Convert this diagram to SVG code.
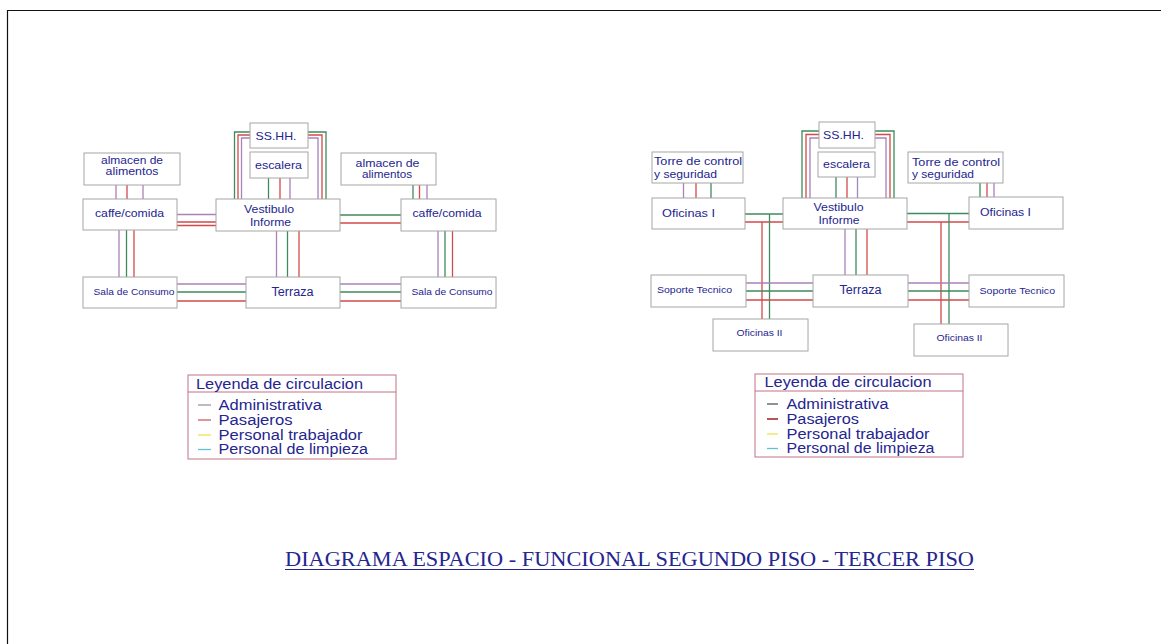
<svg xmlns="http://www.w3.org/2000/svg" width="1161" height="644" viewBox="0 0 1161 644">
  <style>
    .box { fill: #ffffff; stroke: #a6a6a6; stroke-width: 1; }
    .t { font-family: "Liberation Sans", Arial, sans-serif; font-size: 11px; fill: #25258f; }
    .t2 { font-size: 10px; }
    .ts { font-size: 9.5px; }
    .tl { font-size: 12px; }
    .c { text-anchor: middle; }
    .lg { font-family: "Liberation Sans", Arial, sans-serif; font-size: 14px; fill: #25258f; }
    .lgbox { fill: #ffffff; stroke: #c27284; stroke-width: 1; }
    .w path, .w line { fill: none; stroke-width: 1.3; }
    .m { stroke: #a982b8; }
    .r { stroke: #d24a4a; }
    .g { stroke: #3f8a5c; }
    .title { font-family: "Liberation Serif", "Times New Roman", serif; font-size: 20px; fill: #25258f; }
  </style>

  <rect width="1161" height="644" fill="#ffffff"/>
  <path d="M7.5,644 V10.5 H1161" fill="none" stroke="#111111" stroke-width="1.2"/>

  <!-- circulation lines, segundo piso -->
  <g id="connectors-segundo" class="w">
    <line class="m" x1="116" y1="185" x2="116" y2="199"/>
    <line class="r" x1="127" y1="185" x2="127" y2="199"/>
    <line class="m" x1="143" y1="185" x2="143" y2="199"/>

    <line class="m" x1="119" y1="230" x2="119" y2="277"/>
    <line class="g" x1="126.5" y1="230" x2="126.5" y2="277"/>
    <line class="r" x1="134" y1="230" x2="134" y2="277"/>

    <line class="m" x1="177" y1="214.5" x2="216" y2="214.5"/>
    <line class="r" x1="177" y1="222" x2="216" y2="222"/>
    <line class="r" x1="177" y1="225.5" x2="216" y2="225.5"/>

    <line class="g" x1="340" y1="215" x2="401" y2="215"/>
    <line class="r" x1="340" y1="223" x2="401" y2="223"/>

    <path class="g" d="M250,132 H234.5 V199"/>
    <path class="r" d="M250,135 H238 V199"/>
    <path class="m" d="M250,138 H241.5 V199"/>
    <path class="m" d="M308,138 H318 V199"/>
    <path class="r" d="M308,135 H322 V199"/>
    <path class="g" d="M308,132 H326 V199"/>

    <line class="g" x1="268.5" y1="178" x2="268.5" y2="199"/>
    <line class="r" x1="280" y1="178" x2="280" y2="199"/>
    <line class="m" x1="290" y1="178" x2="290" y2="199"/>

    <line class="m" x1="276.5" y1="231" x2="276.5" y2="277"/>
    <line class="g" x1="287.5" y1="231" x2="287.5" y2="277"/>
    <line class="r" x1="299" y1="231" x2="299" y2="277"/>

    <line class="g" x1="413" y1="185" x2="413" y2="199"/>
    <line class="r" x1="419.5" y1="185" x2="419.5" y2="199"/>
    <line class="m" x1="427" y1="185" x2="427" y2="199"/>

    <line class="m" x1="438" y1="231" x2="438" y2="277"/>
    <line class="g" x1="445" y1="231" x2="445" y2="277"/>
    <line class="r" x1="452.5" y1="231" x2="452.5" y2="277"/>

    <line class="m" x1="177" y1="284" x2="246" y2="284"/>
    <line class="g" x1="177" y1="292" x2="246" y2="292"/>
    <line class="r" x1="177" y1="301" x2="246" y2="301"/>

    <line class="m" x1="340" y1="284" x2="401" y2="284"/>
    <line class="g" x1="340" y1="292" x2="401" y2="292"/>
    <line class="r" x1="340" y1="301" x2="401" y2="301"/>
  </g>

  <!-- circulation lines, tercer piso -->
  <g id="connectors-tercer" class="w">
    <line class="m" x1="683.5" y1="183" x2="683.5" y2="198"/>
    <line class="r" x1="696" y1="183" x2="696" y2="198"/>
    <line class="g" x1="711" y1="183" x2="711" y2="198"/>

    <line class="g" x1="980" y1="183" x2="980" y2="197"/>
    <line class="r" x1="987" y1="183" x2="987" y2="197"/>
    <line class="m" x1="994" y1="183" x2="994" y2="197"/>

    <path class="g" d="M819,131 H802 V198"/>
    <path class="r" d="M819,134.5 H806 V198"/>
    <path class="m" d="M819,138 H810 V198"/>
    <path class="m" d="M875,138 H886 V198"/>
    <path class="r" d="M875,134.5 H890 V198"/>
    <path class="g" d="M875,131 H894 V198"/>

    <line class="g" x1="836" y1="177" x2="836" y2="198"/>
    <line class="r" x1="847" y1="177" x2="847" y2="198"/>
    <line class="m" x1="857.5" y1="177" x2="857.5" y2="198"/>

    <line class="m" x1="845" y1="229" x2="845" y2="275"/>
    <line class="g" x1="856" y1="229" x2="856" y2="275"/>
    <line class="r" x1="867" y1="229" x2="867" y2="275"/>

    <line class="g" x1="745" y1="214" x2="783" y2="214"/>
    <line class="r" x1="745" y1="222" x2="783" y2="222"/>
    <line class="g" x1="769.5" y1="214" x2="769.5" y2="319"/>
    <line class="r" x1="762" y1="222" x2="762" y2="319"/>

    <line class="g" x1="907" y1="213.5" x2="969" y2="213.5"/>
    <line class="r" x1="907" y1="222" x2="969" y2="222"/>
    <line class="r" x1="941" y1="222" x2="941" y2="324"/>
    <line class="g" x1="949" y1="213.5" x2="949" y2="324"/>

    <line class="m" x1="746" y1="283" x2="813" y2="283"/>
    <line class="g" x1="746" y1="291" x2="813" y2="291"/>
    <line class="r" x1="746" y1="300" x2="813" y2="300"/>

    <line class="m" x1="908" y1="283" x2="969" y2="283"/>
    <line class="g" x1="908" y1="291" x2="969" y2="291"/>
    <line class="r" x1="908" y1="300" x2="969" y2="300"/>
  </g>

  <!-- segundo piso nodes -->
  <g id="almacen-izq">
    <rect class="box" x="84" y="153" width="96" height="32"/>
    <text class="t t2 c" x="132" y="164" textLength="62" lengthAdjust="spacingAndGlyphs">almacen de</text>
    <text class="t t2 c" x="132" y="175" textLength="53" lengthAdjust="spacingAndGlyphs">alimentos</text>
  </g>
  <g id="caffe-izq">
    <rect class="box" x="83" y="199" width="94" height="31"/>
    <text class="t c" x="129.5" y="217" textLength="69" lengthAdjust="spacingAndGlyphs">caffe/comida</text>
  </g>
  <g id="sshh-2">
    <rect class="box" x="250" y="123" width="58" height="25"/>
    <text class="t c" x="276" y="140" textLength="41" lengthAdjust="spacingAndGlyphs">SS.HH.</text>
  </g>
  <g id="escalera-2">
    <rect class="box" x="250" y="152" width="58" height="26"/>
    <text class="t c" x="278.5" y="169" textLength="47" lengthAdjust="spacingAndGlyphs">escalera</text>
  </g>
  <g id="vestibulo-2">
    <rect class="box" x="216" y="199" width="124" height="32"/>
    <text class="t c" x="269" y="213" textLength="50" lengthAdjust="spacingAndGlyphs">Vestibulo</text>
    <text class="t c" x="270.5" y="225.5" textLength="41" lengthAdjust="spacingAndGlyphs">Informe</text>
  </g>
  <g id="almacen-der">
    <rect class="box" x="341" y="153" width="95" height="32"/>
    <text class="t t2 c" x="387.5" y="167" textLength="64" lengthAdjust="spacingAndGlyphs">almacen de</text>
    <text class="t t2 c" x="387" y="178" textLength="50" lengthAdjust="spacingAndGlyphs">alimentos</text>
  </g>
  <g id="caffe-der">
    <rect class="box" x="401" y="199" width="95" height="32"/>
    <text class="t c" x="447" y="217" textLength="69" lengthAdjust="spacingAndGlyphs">caffe/comida</text>
  </g>
  <g id="sala-izq">
    <rect class="box" x="83" y="277" width="94" height="31"/>
    <text class="t ts c" x="134" y="295" textLength="81" lengthAdjust="spacingAndGlyphs">Sala de Consumo</text>
  </g>
  <g id="terraza-2">
    <rect class="box" x="246" y="277" width="94" height="31"/>
    <text class="t tl c" x="292.5" y="295.5" textLength="42" lengthAdjust="spacingAndGlyphs">Terraza</text>
  </g>
  <g id="sala-der">
    <rect class="box" x="401" y="277" width="95" height="31"/>
    <text class="t ts c" x="452" y="295" textLength="81" lengthAdjust="spacingAndGlyphs">Sala de Consumo</text>
  </g>

  <!-- tercer piso nodes -->
  <g id="torre-izq">
    <rect class="box" x="652" y="152" width="91" height="31"/>
    <text class="t" x="654" y="165" textLength="88" lengthAdjust="spacingAndGlyphs">Torre de control</text>
    <text class="t" x="654" y="178" textLength="63" lengthAdjust="spacingAndGlyphs">y seguridad</text>
  </g>
  <g id="oficinas1-izq">
    <rect class="box" x="652" y="198" width="93" height="31"/>
    <text class="t" x="662" y="216.5" textLength="53" lengthAdjust="spacingAndGlyphs">Oficinas I</text>
  </g>
  <g id="sshh-3">
    <rect class="box" x="819" y="122" width="56" height="26"/>
    <text class="t c" x="843.5" y="138.5" textLength="41" lengthAdjust="spacingAndGlyphs">SS.HH.</text>
  </g>
  <g id="escalera-3">
    <rect class="box" x="818" y="152" width="57" height="25"/>
    <text class="t c" x="846.5" y="167.5" textLength="47" lengthAdjust="spacingAndGlyphs">escalera</text>
  </g>
  <g id="vestibulo-3">
    <rect class="box" x="783" y="198" width="124" height="31"/>
    <text class="t c" x="838.5" y="211" textLength="50" lengthAdjust="spacingAndGlyphs">Vestibulo</text>
    <text class="t c" x="839" y="223.5" textLength="41" lengthAdjust="spacingAndGlyphs">Informe</text>
  </g>
  <g id="torre-der">
    <rect class="box" x="908" y="152" width="95" height="31"/>
    <text class="t" x="912" y="165.5" textLength="88" lengthAdjust="spacingAndGlyphs">Torre de control</text>
    <text class="t" x="912" y="178" textLength="62" lengthAdjust="spacingAndGlyphs">y seguridad</text>
  </g>
  <g id="oficinas1-der">
    <rect class="box" x="969" y="197" width="94" height="32"/>
    <text class="t" x="980" y="216" textLength="51" lengthAdjust="spacingAndGlyphs">Oficinas I</text>
  </g>
  <g id="soporte-izq">
    <rect class="box" x="651" y="275" width="95" height="32"/>
    <text class="t ts" x="657" y="293" textLength="75" lengthAdjust="spacingAndGlyphs">Soporte Tecnico</text>
  </g>
  <g id="terraza-3">
    <rect class="box" x="813" y="275" width="95" height="32"/>
    <text class="t tl c" x="860.5" y="294" textLength="42" lengthAdjust="spacingAndGlyphs">Terraza</text>
  </g>
  <g id="soporte-der">
    <rect class="box" x="969" y="275" width="95" height="32"/>
    <text class="t ts" x="979.5" y="293.5" textLength="75.5" lengthAdjust="spacingAndGlyphs">Soporte Tecnico</text>
  </g>
  <g id="oficinas2-izq">
    <rect class="box" x="713" y="319" width="95" height="32"/>
    <text class="t ts c" x="759.5" y="336" textLength="46" lengthAdjust="spacingAndGlyphs">Oficinas II</text>
  </g>
  <g id="oficinas2-der">
    <rect class="box" x="914" y="324" width="94" height="32"/>
    <text class="t ts c" x="959.5" y="341" textLength="46" lengthAdjust="spacingAndGlyphs">Oficinas II</text>
  </g>

  <!-- legends -->
  <g id="leyenda-2">
    <rect class="lgbox" x="188" y="375" width="208" height="84"/>
    <line x1="188" y1="392" x2="396" y2="392" stroke="#c27284" stroke-width="1"/>
    <text class="lg" x="196" y="388.5" textLength="167" lengthAdjust="spacingAndGlyphs">Leyenda de circulacion</text>
    <line x1="198" y1="405" x2="211" y2="405" stroke="#9a9a9a" stroke-width="1.3"/>
    <line x1="198" y1="420" x2="211" y2="420" stroke="#d25a5a" stroke-width="1.3"/>
    <line x1="198" y1="435" x2="211" y2="435" stroke="#f0e04a" stroke-width="1.3"/>
    <line x1="198" y1="449.5" x2="211" y2="449.5" stroke="#5ec2d2" stroke-width="1.3"/>
    <text class="lg" x="218.5" y="410" textLength="103.5" lengthAdjust="spacingAndGlyphs">Administrativa</text>
    <text class="lg" x="218.5" y="424.5" textLength="74" lengthAdjust="spacingAndGlyphs">Pasajeros</text>
    <text class="lg" x="218.5" y="439.5" textLength="144" lengthAdjust="spacingAndGlyphs">Personal trabajador</text>
    <text class="lg" x="218.5" y="454" textLength="149.5" lengthAdjust="spacingAndGlyphs">Personal de limpieza</text>
  </g>
  <g id="leyenda-3">
    <rect class="lgbox" x="755" y="374" width="208" height="83"/>
    <line x1="755" y1="391" x2="963" y2="391" stroke="#c27284" stroke-width="1"/>
    <text class="lg" x="764.5" y="387" textLength="167" lengthAdjust="spacingAndGlyphs">Leyenda de circulacion</text>
    <line x1="767" y1="404" x2="778" y2="404" stroke="#555555" stroke-width="1.3"/>
    <line x1="767" y1="419" x2="778" y2="419" stroke="#a52a2a" stroke-width="1.6"/>
    <line x1="767" y1="434" x2="778" y2="434" stroke="#f0e04a" stroke-width="1.3"/>
    <line x1="767" y1="448.5" x2="778" y2="448.5" stroke="#5ec2d2" stroke-width="1.3"/>
    <text class="lg" x="786.5" y="409" textLength="102" lengthAdjust="spacingAndGlyphs">Administrativa</text>
    <text class="lg" x="786.5" y="423.5" textLength="72.5" lengthAdjust="spacingAndGlyphs">Pasajeros</text>
    <text class="lg" x="786.5" y="438.5" textLength="143" lengthAdjust="spacingAndGlyphs">Personal trabajador</text>
    <text class="lg" x="786.5" y="453" textLength="148" lengthAdjust="spacingAndGlyphs">Personal de limpieza</text>
  </g>

  <!-- title -->
  <g id="titulo">
    <text class="title" x="285" y="566" textLength="689" lengthAdjust="spacingAndGlyphs">DIAGRAMA ESPACIO - FUNCIONAL SEGUNDO PISO - TERCER PISO</text>
    <line x1="285" y1="569.5" x2="974" y2="569.5" stroke="#25258f" stroke-width="1"/>
  </g>
</svg>
